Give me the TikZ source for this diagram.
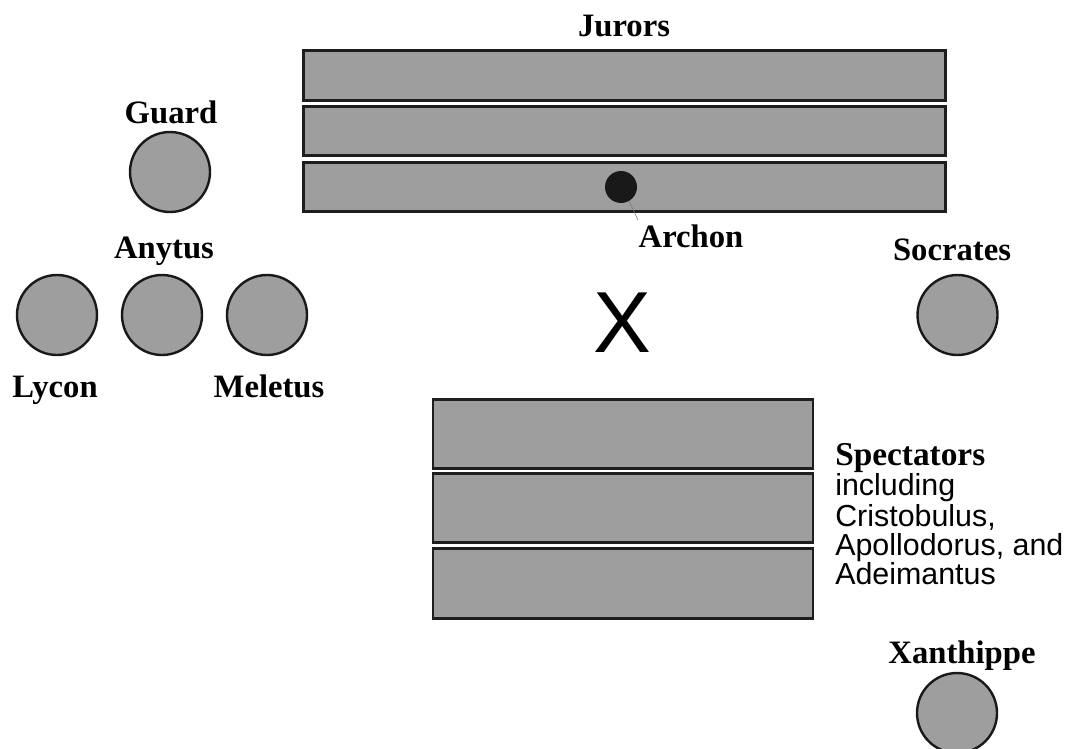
\documentclass[tikz,border=0pt]{standalone}
\usepackage{fontspec}
\setmainfont{Liberation Serif}
\newfontfamily\sansfam{Liberation Sans}
\begin{document}
\begin{tikzpicture}[x=0.75pt,y=-0.75pt,
  shade/.style={fill={rgb,255:red,158;green,158;blue,158}},
  bench/.style={shade,draw={rgb,255:red,30;green,30;blue,30},line width=2.1pt,rectangle,inner sep=0pt},
  juror/.style={bench,minimum width=482pt,minimum height=37pt},
  spect/.style={bench,minimum width=285pt,minimum height=52pt},
  person/.style={shade,draw={rgb,255:red,25;green,25;blue,25},line width=1.8pt,circle,inner sep=0pt,minimum size=60pt},
  lbl/.style={font=\fontsize{24.5}{26}\selectfont\bfseries,inner sep=0pt,anchor=base},
  sanslbl/.style={font=\sansfam\fontsize{22.8}{22}\selectfont,inner sep=0pt,anchor=base west}
]
\useasboundingbox (0,0) rectangle (1074,749);
\clip (0,0) rectangle (1074,749);
% Jurors
\node[lbl] (jurlbl) at (624,37) {Jurors};
\node[juror] (j1) at (624.5,75.5) {};
\node[juror] (j2) at (624.5,131) {};
\node[juror] (j3) at (624.5,187) {};
\node[circle,fill=black!90,inner sep=0pt,minimum size=24pt] (dot) at (621,187) {};
\node[lbl] (archon) at (691,247) {Archon};
\coordinate (archontip) at (638,220);
\draw[line width=0.4pt,draw=black!55] (dot.-60) -- (archontip);
% Guard
\node[lbl] (guardlbl) at (171,123) {Guard};
\node[person] (guard) at (170,172) {};
% Prosecutors
\node[lbl] (anytuslbl) at (164,258) {Anytus};
\node[person] (lycon) at (57,315) {};
\node[person] (anytus) at (162,315) {};
\node[person] (meletus) at (267,315) {};
\node[lbl] (lyconlbl) at (55,397) {Lycon};
\node[lbl] (meletuslbl) at (269,397) {Meletus};
% X
\node[font=\sansfam\fontsize{65}{65}\selectfont,inner sep=0pt] (x) at (622,322.5) {X};
% Socrates
\node[lbl] (soclbl) at (952,260) {Socrates};
\node[person] (socrates) at (957.5,315) {};
% Spectators
\node[spect] (s1) at (623,434) {};
\node[spect] (s2) at (623,508) {};
\node[spect] (s3) at (623,583.5) {};
\node[lbl,anchor=base west,font=\fontsize{25}{26}\selectfont\bfseries] (speclbl) at (835,465) {Spectators};
\node[sanslbl] (inc1) at (835,495) {including};
\node[sanslbl] (inc2) at (835,526) {Cristobulus,};
\node[sanslbl] (inc3) at (835,555) {Apollodorus, and};
\node[sanslbl] (inc4) at (835,584) {Adeimantus};
% Xanthippe
\node[lbl] (xanlbl) at (962,663) {Xanthippe};
\node[person] (xanthippe) at (957,713) {};
\end{tikzpicture}
\end{document}
